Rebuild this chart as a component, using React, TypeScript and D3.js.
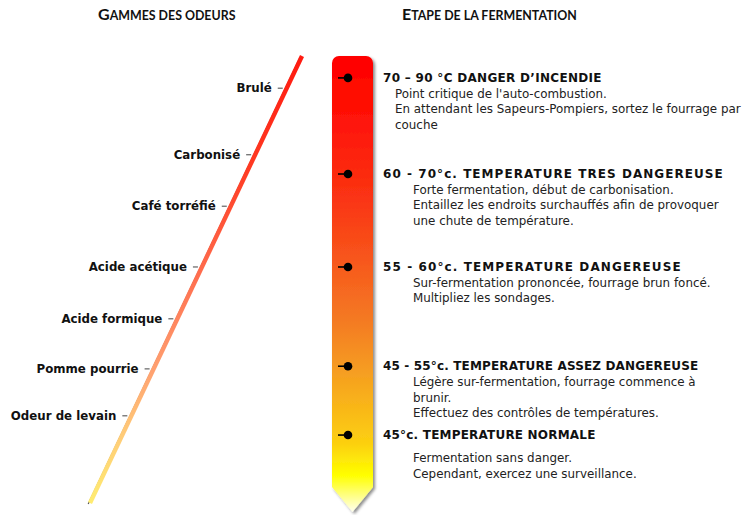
import React, { useRef, useEffect } from "react";
import * as d3 from "d3";

// odour range, position along the diagonal bar (0 = bottom, 100 = top)
const odorNames = [
  "Brulé",
  "Carbonisé",
  "Café torréfié",
  "Acide acétique",
  "Acide formique",
  "Pomme pourrie",
  "Odeur de levain",
];
const odorLevels = [92.8, 77.9, 66.4, 52.8, 41.2, 30.0, 19.5];

// fermentation stages, position along the thermometer (same 0..100 scale)
const stageTitles = [
  "70 – 90 °C DANGER D’INCENDIE",
  "60 - 70°c. TEMPERATURE TRES DANGEREUSE",
  "55 - 60°c. TEMPERATURE DANGEREUSE",
  "45 - 55°c. TEMPERATURE ASSEZ DANGEREUSE",
  "45°c. TEMPERATURE NORMALE",
];
const stageLevels = [95.1, 73.6, 52.8, 30.6, 15.2];
const stageNotes = [
  [
    "Point critique de l'auto-combustion.",
    "En attendant les Sapeurs-Pompiers, sortez le fourrage par",
    "couche",
  ],
  [
    "Forte fermentation, début de carbonisation.",
    "Entaillez les endroits surchauffés afin de provoquer",
    "une chute de température.",
  ],
  ["Sur-fermentation prononcée, fourrage brun foncé.", "Multipliez les sondages."],
  [
    "Légère sur-fermentation, fourrage commence à",
    "brunir.",
    "Effectuez des contrôles de températures.",
  ],
  ["Fermentation sans danger.", "Cependant, exercez une surveillance."],
];

const FONT = "'DejaVu Sans', Verdana, sans-serif";

function drawChart(div: HTMLDivElement, width: number, height: number) {
  d3.select(div).selectAll("*").remove();
  const svg = d3
    .select(div)
    .append("svg")
    .attr("width", width)
    .attr("height", height)
    .style("display", "block");

  const y = d3.scaleLinear().domain([0, 100]).range([503, 56]);
  const lineX = d3.scaleLinear().domain([0, 100]).range([90, 302]);

  const defs = svg.append("defs");

  const odorGrad = defs
    .append("linearGradient")
    .attr("id", "odorGrad")
    .attr("gradientUnits", "userSpaceOnUse")
    .attr("x1", lineX(100))
    .attr("y1", y(100))
    .attr("x2", lineX(0))
    .attr("y2", y(0));
  [
    [0, "#ff1a10"],
    [0.25, "#ff3a22"],
    [0.5, "#ff7050"],
    [0.7, "#ffa070"],
    [0.85, "#ffcc78"],
    [1, "#ffec70"],
  ].forEach(([o, c]) =>
    odorGrad.append("stop").attr("offset", o as number).attr("stop-color", c as string)
  );

  const thermoTop = 56;
  const thermoTip = 512;
  const thermoGrad = defs
    .append("linearGradient")
    .attr("id", "thermoGrad")
    .attr("gradientUnits", "userSpaceOnUse")
    .attr("x1", 0)
    .attr("y1", thermoTop)
    .attr("x2", 0)
    .attr("y2", thermoTip);
  [
    [0, "#ff0000"],
    [0.12, "#ff1006"],
    [0.33, "#fa3814"],
    [0.58, "#f47a24"],
    [0.7, "#f6a020"],
    [0.85, "#fcd010"],
    [0.92, "#ffff00"],
    [1, "#fffff0"],
  ].forEach(([o, c]) =>
    thermoGrad.append("stop").attr("offset", o as number).attr("stop-color", c as string)
  );

  const shadow = defs
    .append("filter")
    .attr("id", "shadow")
    .attr("x", "-20%")
    .attr("y", "-5%")
    .attr("width", "150%")
    .attr("height", "115%");
  shadow
    .append("feDropShadow")
    .attr("dx", 2)
    .attr("dy", 2)
    .attr("stdDeviation", 1.5)
    .attr("flood-color", "#000")
    .attr("flood-opacity", 0.45);

  // titles (small caps)
  const titles = [
    { text: "Gammes des odeurs", x: 98 },
    { text: "Etape de la fermentation", x: 402 },
  ];
  titles.forEach((t) => {
    const txt = svg
      .append("text")
      .attr("x", t.x)
      .attr("y", 20)
      .attr("font-family", "Lato, 'Open Sans', sans-serif")
      .attr("font-weight", 700)
      .attr("fill", "#111");
    txt.append("tspan").attr("font-size", 16).text(t.text[0].toUpperCase());
    txt.append("tspan").attr("font-size", 12.4).text(t.text.slice(1).toUpperCase());
  });

  // diagonal odour bar
  svg
    .append("line")
    .attr("x1", lineX(100) - 1.8)
    .attr("y1", y(100) + 1)
    .attr("x2", lineX(0) - 1.8)
    .attr("y2", y(0) + 1)
    .attr("stroke", "#555")
    .attr("stroke-width", 1.2);
  svg
    .append("line")
    .attr("x1", lineX(100))
    .attr("y1", y(100))
    .attr("x2", lineX(0))
    .attr("y2", y(0))
    .attr("stroke", "url(#odorGrad)")
    .attr("stroke-width", 4.4);

  const odors = svg
    .append("g")
    .selectAll("g")
    .data(odorNames)
    .enter()
    .append("g")
    .attr("transform", (_, i) => `translate(${lineX(odorLevels[i])},${y(odorLevels[i])})`);
  odors
    .append("line")
    .attr("x1", -9)
    .attr("x2", -4)
    .attr("stroke", "#444")
    .attr("stroke-width", 1);
  odors
    .append("text")
    .attr("x", -15)
    .attr("dy", "0.35em")
    .attr("text-anchor", "end")
    .attr("font-family", FONT)
    .attr("font-weight", "bold")
    .attr("font-size", 11.8)
    .attr("fill", "#111")
    .text((d) => d);

  // thermometer
  const left = 332;
  const right = 373;
  const r = 7;
  const sideEnd = 487;
  const mid = (left + right) / 2;
  const p = d3.path();
  p.moveTo(left, thermoTop + r);
  p.arcTo(left, thermoTop, left + r, thermoTop, r);
  p.lineTo(right - r, thermoTop);
  p.arcTo(right, thermoTop, right, thermoTop + r, r);
  p.lineTo(right, sideEnd);
  p.lineTo(mid, thermoTip);
  p.lineTo(left, sideEnd);
  p.closePath();
  svg
    .append("path")
    .attr("d", p.toString())
    .attr("fill", "url(#thermoGrad)")
    .attr("filter", "url(#shadow)");

  const headingSpacing = [0.3, 1.05, 1.1, 0.15, 0.2];
  const stages = svg
    .append("g")
    .selectAll("g")
    .data(stageTitles)
    .enter()
    .append("g")
    .attr("transform", (_, i) => `translate(0,${y(stageLevels[i])})`);
  stages
    .append("line")
    .attr("x1", 338)
    .attr("x2", 348)
    .attr("stroke", "#000")
    .attr("stroke-width", 1.6);
  stages.append("circle").attr("cx", 348).attr("r", 4.3).attr("fill", "#000");
  stages
    .append("text")
    .attr("x", 383)
    .attr("dy", "0.35em")
    .attr("font-family", FONT)
    .attr("font-weight", "bold")
    .attr("font-size", 12)
    .attr("letter-spacing", (_, i) => headingSpacing[i])
    .attr("fill", "#111")
    .text((d) => d);

  const firstGap = [15.5, 15.5, 15.5, 16, 23];
  const lineGap = 15.5;
  stages.each(function (_, i) {
    const g = d3.select(this);
    const indent = i === 0 ? 395 : 413;
    stageNotes[i].forEach((line, j) => {
      g.append("text")
        .attr("x", indent)
        .attr("y", firstGap[i] + j * lineGap)
        .attr("dy", "0.35em")
        .attr("font-family", FONT)
        .attr("font-size", 11.9)
        .attr("fill", "#222")
        .text(line);
    });
  });
}

const App: React.FunctionComponent = function () {
  const ref = useRef<HTMLDivElement>(null);

  useEffect(() => {
    if (ref.current == null) {
      return;
    }
    drawChart(ref.current, 752, 515);
  }, []);

  return (
    <div
      ref={ref}
      style={{ position: "absolute", left: 0, top: 0, width: 752, height: 515 }}
    ></div>
  );
};

export default App;
